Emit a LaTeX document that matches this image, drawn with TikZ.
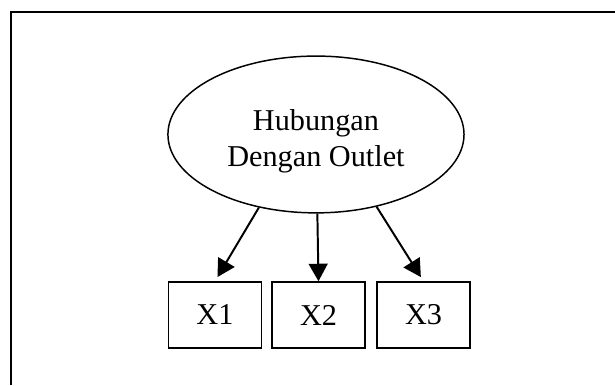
\documentclass[tikz,border=0pt]{standalone}
\usepackage{fontspec}
\setmainfont{Liberation Serif}
\usepackage{tikz}
\usetikzlibrary{shapes}
\usetikzlibrary{arrows.meta}

\begin{document}
\begin{tikzpicture}[>={Triangle[length=0.25cm, width=0.27cm]},
  latent/.style={ellipse, draw, line width=0.6pt, inner sep=0pt,
    minimum width=4.23cm, minimum height=2.24cm, align=center,
    font=\fontsize{12.3}{14.6}\selectfont},
  indicator/.style={rectangle, draw, line width=0.7pt,
    minimum width=1.33cm, minimum height=0.94cm,
    font=\fontsize{12.3}{14.6}\selectfont},
  link/.style={->, line width=0.8pt}]
\useasboundingbox (0, 0) rectangle (8.786, 5.5);

%frame
\draw[line width=0.8pt] (0.157, 0) -- (0.157, 5.329) -- (8.786, 5.329);

%construct
\node[latent] (hub) at (4.514, 3.579) {\rule{0pt}{14pt}Hubungan\\Dengan Outlet};

%indicators
\node[indicator] (x1) at (3.071, 1.0) {X1};
\node[indicator] (x2) at (4.55, 1.0) {X2};
\node[indicator] (x3) at (6.05, 1.0) {X3};

\draw[link, shorten >=0.07cm] (hub.-128) -- (x1.north);
\draw[link] (hub.-89) -- (x2.north);
\draw[link, shorten >=0.07cm] (hub.-50) -- (x3.north);
\end{tikzpicture}
\end{document}
